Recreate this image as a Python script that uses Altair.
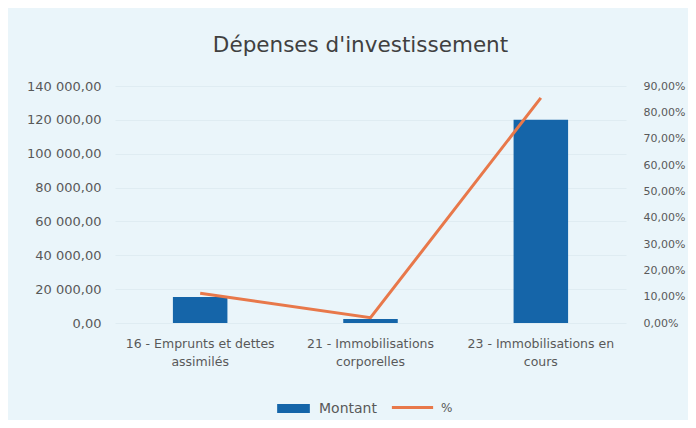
import altair as alt
import pandas as pd

categories = [
    "16 - Emprunts et dettes assimilés",
    "21 - Immobilisations corporelles",
    "23 - Immobilisations en cours",
]
label_line1 = ["16 - Emprunts et dettes", "21 - Immobilisations", "23 - Immobilisations en"]
label_line2 = ["assimilés", "corporelles", "cours"]
montant = [15400, 2400, 120000]
pct = [0.113, 0.02, 0.855]
left_ticks = [0, 20000, 40000, 60000, 80000, 100000, 120000, 140000]
right_ticks = [0, 0.1, 0.2, 0.3, 0.4, 0.5, 0.6, 0.7, 0.8, 0.9]

df = pd.DataFrame({"cat": categories, "Montant": montant, "pct": pct})

label_map = "{" + ",".join(
    f"'{c}': ['{a}', '{b}']" for c, a, b in zip(categories, label_line1, label_line2)
) + "}"

FONT = "DejaVu Sans"
BLUE = "#1565a9"
ORANGE = "#e8784a"
TXT = "#595959"

x = alt.X(
    "cat:N",
    sort=categories,
    title=None,
    scale=alt.Scale(paddingInner=0.68, paddingOuter=0.34),
    axis=alt.Axis(
        labelExpr=label_map + "[datum.label]",
        labelAngle=0,
        labelPadding=14,
        labelLineHeight=18,
        labelFontSize=12.5,
        labelColor=TXT,
        labelFont=FONT,
        domain=False,
        ticks=False,
        grid=False,
        labelLimit=300,
    ),
)

bars = alt.Chart(df).mark_bar(color=BLUE).encode(
    x=x,
    y=alt.Y(
        "Montant:Q",
        title=None,
        scale=alt.Scale(domain=[0, 140000], nice=False),
        axis=alt.Axis(
            values=left_ticks,
            labelExpr="replace(replace(format(datum.value, ',.2f'), ',', ' '), '.', ',')",
            labelFontSize=13,
            labelColor=TXT,
            labelFont=FONT,
            labelPadding=14,
            domain=False,
            ticks=False,
            grid=True,
            gridColor="#dfecf2",
            gridWidth=1,
        ),
    ),
    fill=alt.Fill(
        "s1:N",
        scale=alt.Scale(domain=["Montant"], range=[BLUE]),
        legend=alt.Legend(
            title=None,
            orient="none",
            legendX=169,
            legendY=313,
            symbolType="M-1.8,-0.5H1.8V0.5H-1.8Z",
            symbolSize=330,
            symbolStrokeWidth=0,
            labelOffset=16,
            labelFontSize=14,
            labelColor=TXT,
            labelFont=FONT,
        ),
    ),
).transform_calculate(s1="'Montant'")

line = alt.Chart(df).mark_line(color=ORANGE, strokeWidth=3).encode(
    x=x,
    y=alt.Y(
        "pct:Q",
        title=None,
        scale=alt.Scale(domain=[0, 0.9], nice=False),
        axis=alt.Axis(
            orient="right",
            values=right_ticks,
            labelExpr="replace(format(datum.value, '.2%'), '.', ',')",
            labelFontSize=11,
            labelColor=TXT,
            labelFont=FONT,
            labelPadding=17,
            domain=False,
            ticks=False,
            grid=False,
        ),
    ),
    stroke=alt.Stroke(
        "s2:N",
        scale=alt.Scale(domain=["%"], range=[ORANGE]),
        legend=alt.Legend(
            title=None,
            orient="none",
            legendX=275,
            legendY=299,
            symbolType="stroke",
            symbolSize=1700,
            symbolStrokeWidth=3,
            labelOffset=6,
            labelFontSize=12,
            labelColor=TXT,
            labelFont=FONT,
        ),
    ),
).transform_calculate(s2="'%'")

chart = (
    alt.layer(bars, line)
    .resolve_scale(y="independent", fill="independent", stroke="independent")
    .properties(
        width=511,
        height=237,
        autosize=alt.AutoSizeParams(type="none"),
        padding={"left": 107, "top": 78, "right": 62, "bottom": 97},
        background="#eaf5fa",
        title=alt.TitleParams(
            "Dépenses d'investissement",
            font=FONT,
            fontSize=21.5,
            fontWeight="normal",
            color="#404040",
            offset=24,
            dx=-10,
        ),
    )
    .configure_view(stroke=None)
)

chart.save("out.html", embed_options={"renderer": "svg", "actions": False})
